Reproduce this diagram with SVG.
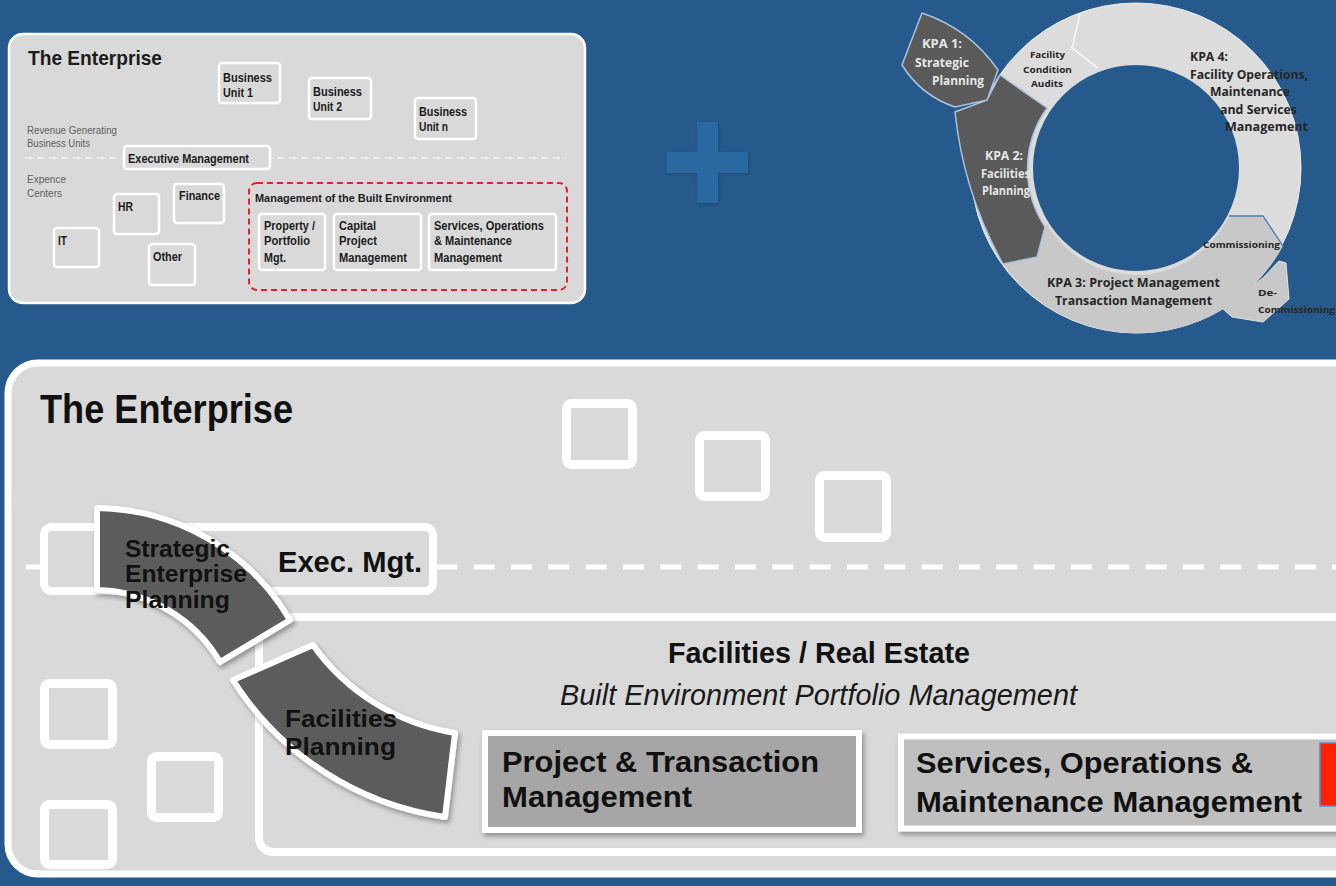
<svg xmlns="http://www.w3.org/2000/svg" width="1336" height="886" viewBox="0 0 1336 886">
  <defs>
    <style>
      .nb{font-family:"Liberation Sans Narrow","Liberation Sans",Arial,sans-serif;font-weight:bold;fill:#1c1c1c}
      .nr{font-family:"Liberation Sans Narrow","Liberation Sans",Arial,sans-serif;fill:#5f5f5f}
      .box{fill:#d9d9d9;stroke:#ffffff;stroke-width:2.5}
      .big{font-family:"Liberation Sans",Arial,sans-serif;font-weight:bold;fill:#111111}
      .ital{font-family:"Liberation Sans",Arial,sans-serif;font-style:italic;fill:#1a1a1a}
      .cal{font-family:"Open Sans","Noto Sans","Liberation Sans",sans-serif;font-weight:bold}
      .dk{fill:#262626}
      .lt{fill:#e6e6e6}
      .sq{fill:none;stroke:#ffffff;stroke-width:9}
      .arc{fill:#5b5b5b;stroke:#ffffff;stroke-width:6;stroke-linejoin:round}
      .kpa{fill:#5a5a5a;stroke:#a9c1db;stroke-width:1.5;stroke-linejoin:round}
    </style>
    <filter id="shadow" x="-15%" y="-15%" width="140%" height="140%">
      <feDropShadow dx="2" dy="3" stdDeviation="2.5" flood-color="#000000" flood-opacity="0.35"/>
    </filter>
    <filter id="soft" x="-20%" y="-20%" width="140%" height="140%">
      <feDropShadow dx="1" dy="1" stdDeviation="1.5" flood-color="#10304f" flood-opacity="0.5"/>
    </filter>
  </defs>

  <!-- background -->
  <rect x="0" y="0" width="1336" height="886" fill="#265a8c"/>

  <!-- small enterprise overview -->
  <g id="overview">
    <rect x="9" y="34" width="576" height="269" rx="14" fill="#d9d9d9" stroke="#ffffff" stroke-width="2.5"/>
    <text class="nb" x="28" y="65" font-size="21" textLength="134" lengthAdjust="spacingAndGlyphs">The Enterprise</text>
    <text class="nr" x="27" y="134" font-size="10" textLength="90" lengthAdjust="spacingAndGlyphs">Revenue Generating</text>
    <text class="nr" x="27" y="147" font-size="10" textLength="63" lengthAdjust="spacingAndGlyphs">Business Units</text>
    <text class="nr" x="27" y="183" font-size="10" textLength="39" lengthAdjust="spacingAndGlyphs">Expence</text>
    <text class="nr" x="27" y="197" font-size="10" textLength="35" lengthAdjust="spacingAndGlyphs">Centers</text>
  </g>

  <g id="dividers">
    <line x1="25" y1="158" x2="566" y2="158" stroke="#f4f4f4" stroke-width="1.6" stroke-dasharray="7 5"/>
  </g>

  <g id="bu1">
    <rect class="box" x="219" y="63" width="61" height="40" rx="3"/>
    <text class="nb" x="223" y="82" font-size="12" textLength="49" lengthAdjust="spacingAndGlyphs">Business</text>
    <text class="nb" x="223" y="97" font-size="12" textLength="30" lengthAdjust="spacingAndGlyphs">Unit 1</text>
  </g>
  <g id="bu2">
    <rect class="box" x="309" y="78" width="62" height="41" rx="3"/>
    <text class="nb" x="313" y="96" font-size="12" textLength="49" lengthAdjust="spacingAndGlyphs">Business</text>
    <text class="nb" x="313" y="111" font-size="12" textLength="29" lengthAdjust="spacingAndGlyphs">Unit 2</text>
  </g>
  <g id="bun">
    <rect class="box" x="415" y="98" width="61" height="41" rx="3"/>
    <text class="nb" x="419" y="116" font-size="12" textLength="48" lengthAdjust="spacingAndGlyphs">Business</text>
    <text class="nb" x="419" y="131" font-size="12" textLength="29" lengthAdjust="spacingAndGlyphs">Unit n</text>
  </g>
  <g id="exec-small">
    <rect class="box" x="124" y="146" width="146" height="23" rx="3"/>
    <text class="nb" x="128" y="163" font-size="12" textLength="121" lengthAdjust="spacingAndGlyphs">Executive Management</text>
  </g>
  <g id="hr">
    <rect class="box" x="114" y="194" width="45" height="40" rx="3"/>
    <text class="nb" x="118" y="211" font-size="12" textLength="15" lengthAdjust="spacingAndGlyphs">HR</text>
  </g>
  <g id="finance">
    <rect class="box" x="174" y="184" width="50" height="39" rx="3"/>
    <text class="nb" x="179" y="200" font-size="12" textLength="41" lengthAdjust="spacingAndGlyphs">Finance</text>
  </g>
  <g id="it">
    <rect class="box" x="54" y="228" width="45" height="39" rx="3"/>
    <text class="nb" x="58" y="245" font-size="12" textLength="9" lengthAdjust="spacingAndGlyphs">IT</text>
  </g>
  <g id="other">
    <rect class="box" x="149" y="244" width="46" height="41" rx="3"/>
    <text class="nb" x="153" y="261" font-size="12" textLength="29" lengthAdjust="spacingAndGlyphs">Other</text>
  </g>
  <g id="built-env">
    <rect x="249" y="183" width="318" height="107" rx="8" fill="none" stroke="#e3202c" stroke-width="2" stroke-dasharray="6 4"/>
    <text class="nb" x="255" y="202" font-size="11" textLength="197" lengthAdjust="spacingAndGlyphs">Management of the Built Environment</text>
  </g>
  <g id="property">
    <rect class="box" x="259" y="214" width="66" height="56" rx="3"/>
    <text class="nb" x="264" y="230" font-size="12" textLength="51" lengthAdjust="spacingAndGlyphs">Property /</text>
    <text class="nb" x="264" y="245" font-size="12" textLength="46" lengthAdjust="spacingAndGlyphs">Portfolio</text>
    <text class="nb" x="264" y="262" font-size="12" textLength="22" lengthAdjust="spacingAndGlyphs">Mgt.</text>
  </g>
  <g id="capital">
    <rect class="box" x="334" y="214" width="87" height="56" rx="3"/>
    <text class="nb" x="339" y="230" font-size="12" textLength="37" lengthAdjust="spacingAndGlyphs">Capital</text>
    <text class="nb" x="339" y="245" font-size="12" textLength="38" lengthAdjust="spacingAndGlyphs">Project</text>
    <text class="nb" x="339" y="262" font-size="12" textLength="68" lengthAdjust="spacingAndGlyphs">Management</text>
  </g>
  <g id="services-small">
    <rect class="box" x="429" y="214" width="127" height="56" rx="3"/>
    <text class="nb" x="434" y="230" font-size="12" textLength="110" lengthAdjust="spacingAndGlyphs">Services, Operations</text>
    <text class="nb" x="434" y="245" font-size="12" textLength="78" lengthAdjust="spacingAndGlyphs">&amp; Maintenance</text>
    <text class="nb" x="434" y="262" font-size="12" textLength="68" lengthAdjust="spacingAndGlyphs">Management</text>
  </g>

  <!-- plus sign -->
  <g id="plus" filter="url(#soft)">
    <rect x="697" y="122" width="21" height="81" fill="#2b67a2"/>
    <rect x="667" y="152" width="81" height="21" fill="#2b67a2"/>
  </g>

  <!-- KPA cycle -->
  <g id="cycle">
    <circle cx="1136" cy="168" r="134" fill="none" stroke="#dcdcdc" stroke-width="62"/>
    <circle cx="1136" cy="168" r="165" fill="none" stroke="#eeeeee" stroke-width="1"/>
    <polyline points="1080,14 1072,48 1098,68" fill="none" stroke="#f6f6f6" stroke-width="1.6"/>
  </g>
  <g id="kpa3">
    <path d="M1263,278 L1279,261 L1286,263 L1289,299 L1263,322 L1232,317 L1222,308 Z" fill="#c8c8c8" stroke="#e2e2e2" stroke-width="1"/>
    <path d="M1283,246 L1263,216 L1229,216 A103,103 0 0 1 1047,224 L1037,257 L1003,264 A165,165 0 0 0 1283,246 Z" fill="#c8c8c8"/>
    <polyline points="1229,216 1263,216 1283,246" fill="none" stroke="#4c7bb0" stroke-width="1.3"/>
    <text class="cal dk" x="1047" y="287" font-size="12" textLength="173" lengthAdjust="spacingAndGlyphs">KPA 3: Project Management</text>
    <text class="cal dk" x="1055" y="305" font-size="12" textLength="157" lengthAdjust="spacingAndGlyphs">Transaction  Management</text>
    <text class="cal dk" x="1203" y="248" font-size="9.5" textLength="77" lengthAdjust="spacingAndGlyphs">Commissioning</text>
    <text class="cal dk" x="1258" y="296" font-size="9.5" textLength="19" lengthAdjust="spacingAndGlyphs">De-</text>
    <text class="cal dk" x="1258" y="313" font-size="9.5" textLength="77" lengthAdjust="spacingAndGlyphs">Commissioning</text>
  </g>
  <g id="kpa4">
    <text class="cal dk" x="1190" y="61" font-size="12" textLength="38" lengthAdjust="spacingAndGlyphs">KPA 4:</text>
    <text class="cal dk" x="1190" y="79" font-size="12" textLength="118" lengthAdjust="spacingAndGlyphs">Facility Operations,</text>
    <text class="cal dk" x="1210" y="96" font-size="12" textLength="80" lengthAdjust="spacingAndGlyphs">Maintenance</text>
    <text class="cal dk" x="1220" y="114" font-size="12" textLength="77" lengthAdjust="spacingAndGlyphs">and Services</text>
    <text class="cal dk" x="1225" y="131" font-size="12" textLength="83" lengthAdjust="spacingAndGlyphs">Management</text>
  </g>
  <g id="audits">
    <text class="cal dk" x="1030" y="58" font-size="9.5" textLength="35" lengthAdjust="spacingAndGlyphs">Facility</text>
    <text class="cal dk" x="1023" y="73" font-size="9.5" textLength="49" lengthAdjust="spacingAndGlyphs">Condition</text>
    <text class="cal dk" x="1031" y="87" font-size="9.5" textLength="32" lengthAdjust="spacingAndGlyphs">Audits</text>
  </g>
  <g id="kpa2">
    <path class="kpa" d="M1000,75 L1047,108 A105,105 0 0 0 1045,227 L1037,257 L1003,264 A400,400 0 0 1 955,112 L987,100 Z"/>
    <text class="cal lt" x="985" y="160" font-size="12" textLength="38" lengthAdjust="spacingAndGlyphs">KPA 2:</text>
    <text class="cal lt" x="981" y="178" font-size="12" textLength="49" lengthAdjust="spacingAndGlyphs">Facilities</text>
    <text class="cal lt" x="982" y="195" font-size="12" textLength="48" lengthAdjust="spacingAndGlyphs">Planning</text>
  </g>
  <g id="kpa1">
    <path class="kpa" d="M922,13 L902,65 A100,100 0 0 0 955,107 L987,100 L998,70 A150,150 0 0 0 922,13 Z"/>
    <text class="cal lt" x="922" y="48" font-size="12" textLength="40" lengthAdjust="spacingAndGlyphs">KPA 1:</text>
    <text class="cal lt" x="915" y="67" font-size="12" textLength="54" lengthAdjust="spacingAndGlyphs">Strategic</text>
    <text class="cal lt" x="932" y="85" font-size="12" textLength="52" lengthAdjust="spacingAndGlyphs">Planning</text>
  </g>

  <!-- large enterprise view -->
  <g id="enterprise">
    <rect x="8" y="363" width="1360" height="511" rx="30" fill="#d9d9d9" stroke="#ffffff" stroke-width="7"/>
    <text class="big" x="40" y="423" font-size="40" textLength="253" lengthAdjust="spacingAndGlyphs">The Enterprise</text>
  </g>
  <g id="separator">
    <line x1="23" y1="567" x2="1336" y2="567" stroke="#ffffff" stroke-width="5" stroke-dasharray="21 16.33" stroke-dashoffset="-2.7"/>
  </g>
  <g id="exec">
    <rect x="44" y="527" width="389" height="64" rx="8" fill="#d9d9d9" stroke="#ffffff" stroke-width="8"/>
    <text class="big" x="278" y="572" font-size="30" textLength="144" lengthAdjust="spacingAndGlyphs">Exec. Mgt.</text>
  </g>
  <g id="units">
    <rect class="sq" x="566.5" y="403.5" width="66" height="61" rx="5"/>
    <rect class="sq" x="699.5" y="435.5" width="66" height="61" rx="5"/>
    <rect class="sq" x="819.5" y="475.5" width="67" height="62" rx="5"/>
  </g>
  <g id="centers">
    <rect class="sq" x="44.5" y="683.5" width="68" height="61" rx="5"/>
    <rect class="sq" x="151.5" y="756.5" width="67" height="61" rx="5"/>
    <rect class="sq" x="44.5" y="804.5" width="68" height="60" rx="5"/>
  </g>
  <g id="facilities">
    <rect x="259" y="617" width="1200" height="235" rx="14" fill="#d9d9d9" stroke="#ffffff" stroke-width="8"/>
    <text class="big" x="668" y="663" font-size="29" textLength="302" lengthAdjust="spacingAndGlyphs">Facilities / Real Estate</text>
    <text class="ital" x="560" y="705" font-size="29" textLength="517" lengthAdjust="spacingAndGlyphs">Built Environment Portfolio Management</text>
  </g>
  <g id="project">
    <rect x="485" y="733" width="374" height="97" fill="#a6a6a6" stroke="#ffffff" stroke-width="6" filter="url(#shadow)"/>
    <text class="big" x="502" y="772" font-size="30" textLength="317" lengthAdjust="spacingAndGlyphs">Project &amp; Transaction</text>
    <text class="big" x="502" y="807" font-size="30" textLength="190" lengthAdjust="spacingAndGlyphs">Management</text>
  </g>
  <g id="services">
    <rect x="901" y="736.5" width="470" height="92" fill="#bfbfbf" stroke="#ffffff" stroke-width="6" filter="url(#shadow)"/>
    <text class="big" x="916" y="773" font-size="30" textLength="337" lengthAdjust="spacingAndGlyphs">Services, Operations &amp;</text>
    <text class="big" x="916" y="812" font-size="30" textLength="386" lengthAdjust="spacingAndGlyphs">Maintenance Management</text>
    <rect x="1320" y="743" width="30" height="63" fill="#ff2200" stroke="#5b8bd0" stroke-width="1.5"/>
  </g>
  <g id="strategic-planning">
    <path class="arc" d="M97,508 A227,227 0 0 1 290,620 L220,662 A145,145 0 0 0 97,590 Z" filter="url(#shadow)"/>
    <text class="big" x="125" y="557" font-size="23" textLength="105" lengthAdjust="spacingAndGlyphs">Strategic</text>
    <text class="big" x="125" y="582" font-size="23" textLength="122" lengthAdjust="spacingAndGlyphs">Enterprise</text>
    <text class="big" x="125" y="608" font-size="23" textLength="105" lengthAdjust="spacingAndGlyphs">Planning</text>
  </g>
  <g id="facilities-planning">
    <path class="arc" d="M313,645 A216,216 0 0 0 455,733 L445,817 A301,301 0 0 1 233,680 Z" filter="url(#shadow)"/>
    <text class="big" x="285" y="727" font-size="24" textLength="112" lengthAdjust="spacingAndGlyphs">Facilities</text>
    <text class="big" x="285" y="755" font-size="24" textLength="111" lengthAdjust="spacingAndGlyphs">Planning</text>
  </g>
</svg>
